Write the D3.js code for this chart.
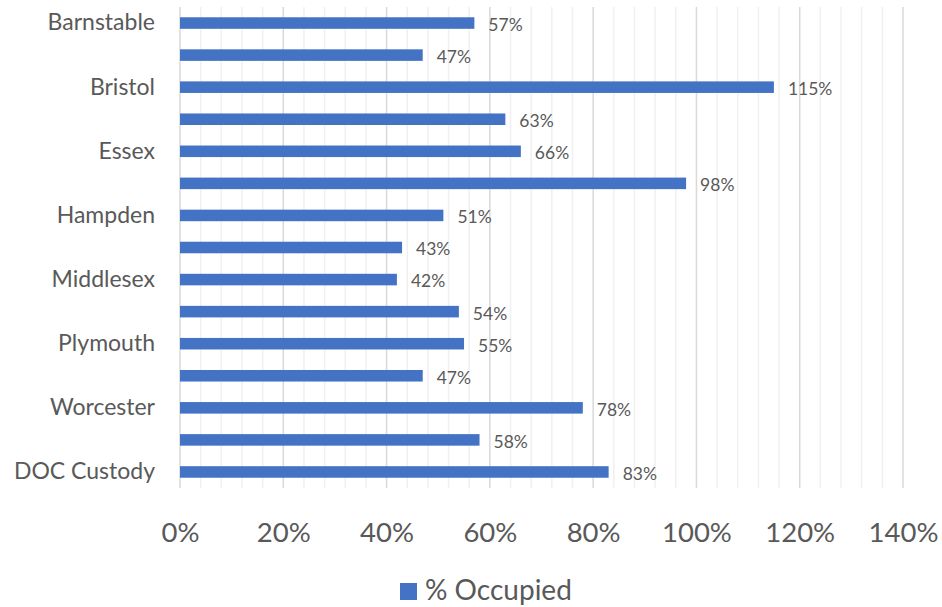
<!DOCTYPE html>
<html>
<head>
<meta charset="utf-8">
<script src="https://d3js.org/d3.v7.min.js"></script>
<style>
  body { margin: 0; background: #fff; }
  text { font-family: Lato, "Liberation Sans", sans-serif; fill: #595959; }
</style>
</head>
<body>
<svg id="chart" width="942" height="607"></svg>
<script>
  // category names (only every other one is labelled on the axis, like the original)
  const counties = ["Barnstable", "Berkshire", "Bristol", "Dukes", "Essex", "Franklin",
    "Hampden", "Hampshire", "Middlesex", "Norfolk", "Plymouth", "Suffolk",
    "Worcester", "County Total", "DOC Custody"];
  const occupied = [57, 47, 115, 63, 66, 98, 51, 43, 42, 54, 55, 47, 78, 58, 83];
  const xTicks = [0, 20, 40, 60, 80, 100, 120, 140];
  const seriesName = "% Occupied";

  const margin = { top: 7, right: 39, bottom: 119, left: 180 };
  const svg = d3.select("#chart"),
    width = +svg.attr("width") - margin.left - margin.right,
    height = +svg.attr("height") - margin.top - margin.bottom,
    g = svg.append("g").attr("transform", `translate(${margin.left},${margin.top})`);

  const x = d3.scaleLinear().domain([0, 140]).range([0, width]);
  const y = d3.scaleBand().domain(counties).range([0, height]).paddingInner(0.64).paddingOuter(0.32);

  // minor gridlines every 4%
  g.append("g").selectAll("line")
    .data(d3.range(0, 141, 4).filter(v => v % 20 != 0))
    .enter().append("line")
    .attr("x1", d => x(d)).attr("x2", d => x(d))
    .attr("y1", 0).attr("y2", height)
    .attr("stroke", "#f0f0f0").attr("stroke-width", 1.5);

  // major gridlines
  g.append("g").selectAll("line")
    .data(xTicks)
    .enter().append("line")
    .attr("x1", d => x(d)).attr("x2", d => x(d))
    .attr("y1", 0).attr("y2", height)
    .attr("stroke", "#d9d9d9").attr("stroke-width", 1.5);

  // x axis labels
  const xAxis = g.append("g")
    .attr("transform", `translate(0,${height})`)
    .call(d3.axisBottom(x).tickValues(xTicks).tickFormat(d => d + "%").tickSize(0).tickPadding(34));
  xAxis.select(".domain").remove();
  xAxis.selectAll("text").style("font-size", "27.5px").attr("fill", "#595959");

  // y axis labels
  const yAxis = g.append("g")
    .call(d3.axisLeft(y).tickSize(0).tickPadding(25)
      .tickFormat((d, i) => i % 2 == 0 ? d : ""));
  yAxis.select(".domain").remove();
  yAxis.selectAll("text").style("font-size", "23px").attr("fill", "#595959");

  // bars
  g.selectAll(".bar")
    .data(counties)
    .enter().append("rect")
    .attr("class", "bar")
    .attr("x", x(0))
    .attr("y", d => y(d))
    .attr("width", (d, i) => x(occupied[i]) - x(0))
    .attr("height", y.bandwidth())
    .attr("fill", "#4472c4");

  // value labels
  g.selectAll(".lbl")
    .data(counties)
    .enter().append("text")
    .attr("class", "lbl")
    .attr("x", (d, i) => x(occupied[i]) + 14)
    .attr("y", d => y(d) + y.bandwidth() / 2)
    .attr("dy", "0.45em")
    .style("font-size", "17.5px")
    .text((d, i) => occupied[i] + "%");

  // legend
  const legend = svg.append("g").attr("transform", "translate(400,583)");
  legend.append("rect").attr("width", 17).attr("height", 17).attr("fill", "#4472c4");
  legend.append("text")
    .attr("x", 25).attr("y", 17)
    .style("font-size", "28px")
    .text(seriesName);
</script>
</body>
</html>
